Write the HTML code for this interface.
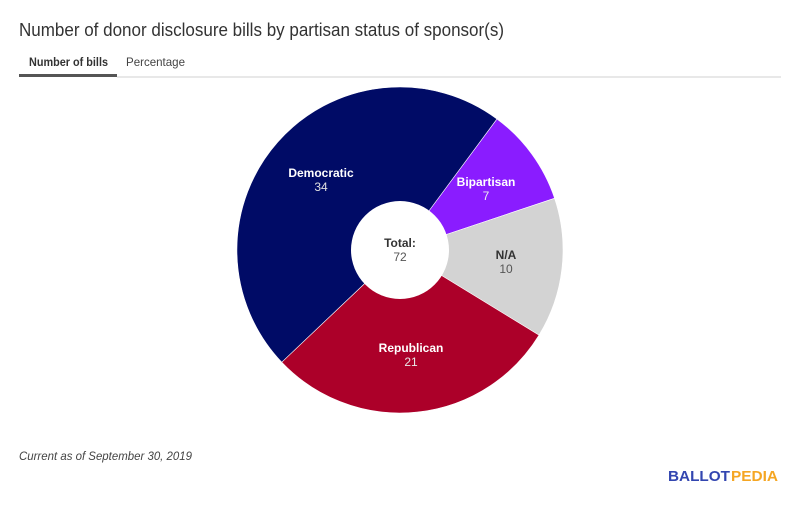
<!DOCTYPE html>
<html>
<head>
<meta charset="utf-8">
<style>
  html,body{margin:0;padding:0;background:#fff;}
  body{width:800px;height:514px;overflow:hidden;font-family:"Liberation Sans",Arial,sans-serif;}
  svg{display:block;}
</style>
</head>
<body>
<svg width="800" height="514" viewBox="0 0 800 514" xmlns="http://www.w3.org/2000/svg" font-family="Liberation Sans, Arial, sans-serif">
  <rect width="800" height="514" fill="#fff"/>
  <!-- Title -->
  <text x="19" y="36" font-size="18" fill="#333" textLength="485" lengthAdjust="spacingAndGlyphs">Number of donor disclosure bills by partisan status of sponsor(s)</text>
  <!-- Tabs -->
  <text x="29" y="66" font-size="12" font-weight="bold" fill="#333" textLength="79" lengthAdjust="spacingAndGlyphs">Number of bills</text>
  <text x="126" y="66" font-size="12" fill="#444" textLength="59" lengthAdjust="spacingAndGlyphs">Percentage</text>
  <rect x="117" y="76.5" width="664" height="1" fill="#d0d0d0"/>
  <rect x="19" y="74" width="98" height="3" fill="#555"/>

  <!-- Pie -->
  <g stroke="#ffffff" stroke-width="0.6" stroke-linejoin="round">
    <path d="M400,250 L496.95,118.96 A163,163 0 0 1 554.57,198.28 Z" fill="#8a1cff"/>
    <path d="M400,250 L554.57,198.28 A163,163 0 0 1 538.97,335.17 Z" fill="#d3d3d3"/>
    <path d="M400,250 L538.97,335.17 A163,163 0 0 1 281.76,362.21 Z" fill="#ac0029"/>
    <path d="M400,250 L281.76,362.21 A163,163 0 0 1 496.95,118.96 Z" fill="#000b66"/>
  </g>
  <circle cx="400" cy="250" r="49" fill="#ffffff"/>

  <!-- Slice labels -->
  <g font-size="12" text-anchor="middle">
    <text x="321" y="177" font-weight="bold" fill="#ffffff">Democratic</text>
    <text x="321" y="191" fill="#e0e0e0">34</text>

    <text x="486" y="186" font-weight="bold" fill="#ffffff">Bipartisan</text>
    <text x="486" y="200" fill="#eeeeee">7</text>

    <text x="400" y="247" font-weight="bold" fill="#333">Total:</text>
    <text x="400" y="261" fill="#555">72</text>

    <text x="506" y="259" font-weight="bold" fill="#333">N/A</text>
    <text x="506" y="273" fill="#555">10</text>

    <text x="411" y="352" font-weight="bold" fill="#ffffff">Republican</text>
    <text x="411" y="366" fill="#e8e8e8">21</text>
  </g>

  <!-- Footer -->
  <text x="19" y="460" font-size="12" font-style="italic" fill="#444" textLength="173" lengthAdjust="spacingAndGlyphs">Current as of September 30, 2019</text>
  <text x="668" y="481" font-size="15" font-weight="bold" fill="#3346b0" textLength="62" lengthAdjust="spacingAndGlyphs">BALLOT</text>
  <text x="731" y="481" font-size="15" font-weight="bold" fill="#f5a623" textLength="47" lengthAdjust="spacingAndGlyphs">PEDIA</text>
</svg>
</body>
</html>
